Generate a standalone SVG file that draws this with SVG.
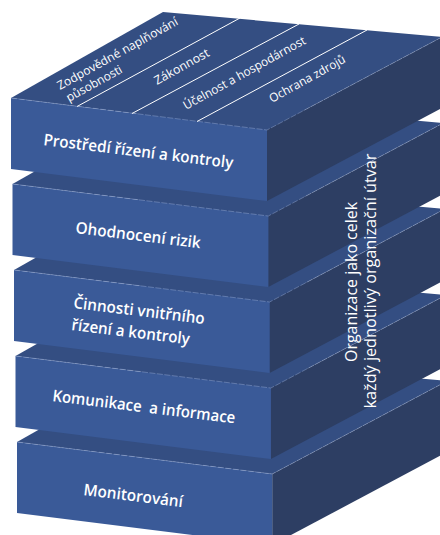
<svg xmlns="http://www.w3.org/2000/svg" width="440" height="535" viewBox="0 0 440 535">
  <style>
    .front { fill: #3a5a98; }
    .top { fill: #344e82; }
    .side { fill: #2d3e63; }
    .hl { fill: none; stroke: #9fb3da; stroke-width: 0.7; stroke-opacity: 0.6; stroke-dasharray: 6 1.5; }
    .div { stroke: #ffffff; stroke-width: 1; fill: none; }
    .lbl { font-family: "Open Sans", "Noto Sans", "Liberation Sans", sans-serif; font-size: 16px; font-weight: 600; fill: #ffffff; }
    .tlbl { font-family: "Open Sans", "Noto Sans", "Liberation Sans", sans-serif; font-size: 12px; font-weight: 500; fill: #ffffff; }
    .vlbl { font-family: "Open Sans", "Noto Sans", "Liberation Sans", sans-serif; font-size: 16px; font-weight: 500; fill: #ffffff; }
  </style>
  <rect width="440" height="535" fill="#ffffff"/>

  <g id="slab-monitorovani">
    <polygon class="top" points="17,442 272.2,474 447.2,381 169,356"/>
    <polygon class="side" points="272.2,474 447.2,381 447.2,452 272.2,545"/>
    <polygon class="front" points="17,442 272.2,474 272.2,545 17,513"/>
    <polyline class="hl" points="17,442 272.2,474 447.2,381"/>
    <text class="lbl" transform="translate(83,495) rotate(7)" textLength="100" lengthAdjust="spacingAndGlyphs">Monitorování</text>
  </g>

  <g id="slab-komunikace">
    <polygon class="top" points="15.5,356 270.9,388 445.9,295 167.5,270"/>
    <polygon class="side" points="270.9,388 445.9,295 445.9,366 270.9,459"/>
    <polygon class="front" points="15.5,356 270.9,388 270.9,459 15.5,427"/>
    <polyline class="hl" points="15.5,356 270.9,388 445.9,295"/>
    <text class="lbl" xml:space="preserve" transform="translate(52,401) rotate(7)" textLength="184" lengthAdjust="spacingAndGlyphs">Komunikace  a informace</text>
  </g>

  <g id="slab-cinnosti">
    <polygon class="top" points="14,270 269.6,302 444.6,209 166,184"/>
    <polygon class="side" points="269.6,302 444.6,209 444.6,280 269.6,373"/>
    <polygon class="front" points="14,270 269.6,302 269.6,373 14,341"/>
    <polyline class="hl" points="14,270 269.6,302 444.6,209"/>
    <text class="lbl" transform="translate(73,308) rotate(7)" textLength="132" lengthAdjust="spacingAndGlyphs">Činnosti vnitřního</text>
    <text class="lbl" transform="translate(71,330) rotate(7)" textLength="119" lengthAdjust="spacingAndGlyphs">řízení a kontroly</text>
  </g>

  <g id="slab-ohodnoceni">
    <polygon class="top" points="12.5,184 268.3,216 443.3,123 164.5,98"/>
    <polygon class="side" points="268.3,216 443.3,123 443.3,194 268.3,287"/>
    <polygon class="front" points="12.5,184 268.3,216 268.3,287 12.5,255"/>
    <polyline class="hl" points="12.5,184 268.3,216 443.3,123"/>
    <text class="lbl" transform="translate(75,233) rotate(7)" textLength="126" lengthAdjust="spacingAndGlyphs">Ohodnocení rizik</text>
  </g>

  <g id="slab-prostredi">
    <polygon class="top" points="11,98 267,130 442,37 163,12"/>
    <polygon class="side" points="267,130 442,37 442,108 267,201"/>
    <polygon class="front" points="11,98 267,130 267,201 11,169"/>
    <polyline class="hl" points="11,98 267,130 442,37"/>
    <text class="lbl" transform="translate(43,145) rotate(7)" textLength="191" lengthAdjust="spacingAndGlyphs">Prostředí řízení a kontroly</text>
  </g>

  <g id="top-categories">
    <g id="dividers">
      <line class="div" x1="77" y1="106.5" x2="240" y2="18"/>
      <line class="div" x1="132" y1="113.5" x2="299" y2="24"/>
      <line class="div" x1="197" y1="121.5" x2="367" y2="30"/>
    </g>
    <text class="tlbl" transform="translate(60,90) rotate(-29)" textLength="136" lengthAdjust="spacingAndGlyphs">Zodpovědné naplňování</text>
    <text class="tlbl" transform="translate(69,102) rotate(-29)" textLength="62" lengthAdjust="spacingAndGlyphs">působnosti</text>
    <text class="tlbl" transform="translate(157,85) rotate(-29)" textLength="61" lengthAdjust="spacingAndGlyphs">Zákonnost</text>
    <text class="tlbl" transform="translate(186,110) rotate(-29)" textLength="138" lengthAdjust="spacingAndGlyphs">Účelnost a hospodárnost</text>
    <text class="tlbl" transform="translate(272,103) rotate(-29)" textLength="85" lengthAdjust="spacingAndGlyphs">Ochrana zdrojů</text>
  </g>

  <g id="side-label">
    <text class="vlbl" text-anchor="middle" transform="translate(357,282) rotate(-90)" textLength="160" lengthAdjust="spacingAndGlyphs">Organizace jako celek</text>
    <text class="vlbl" text-anchor="middle" transform="translate(376,281) rotate(-90)" textLength="255" lengthAdjust="spacingAndGlyphs">každý jednotlivý organizační útvar</text>
  </g>

  <g id="connectors"/>
</svg>
